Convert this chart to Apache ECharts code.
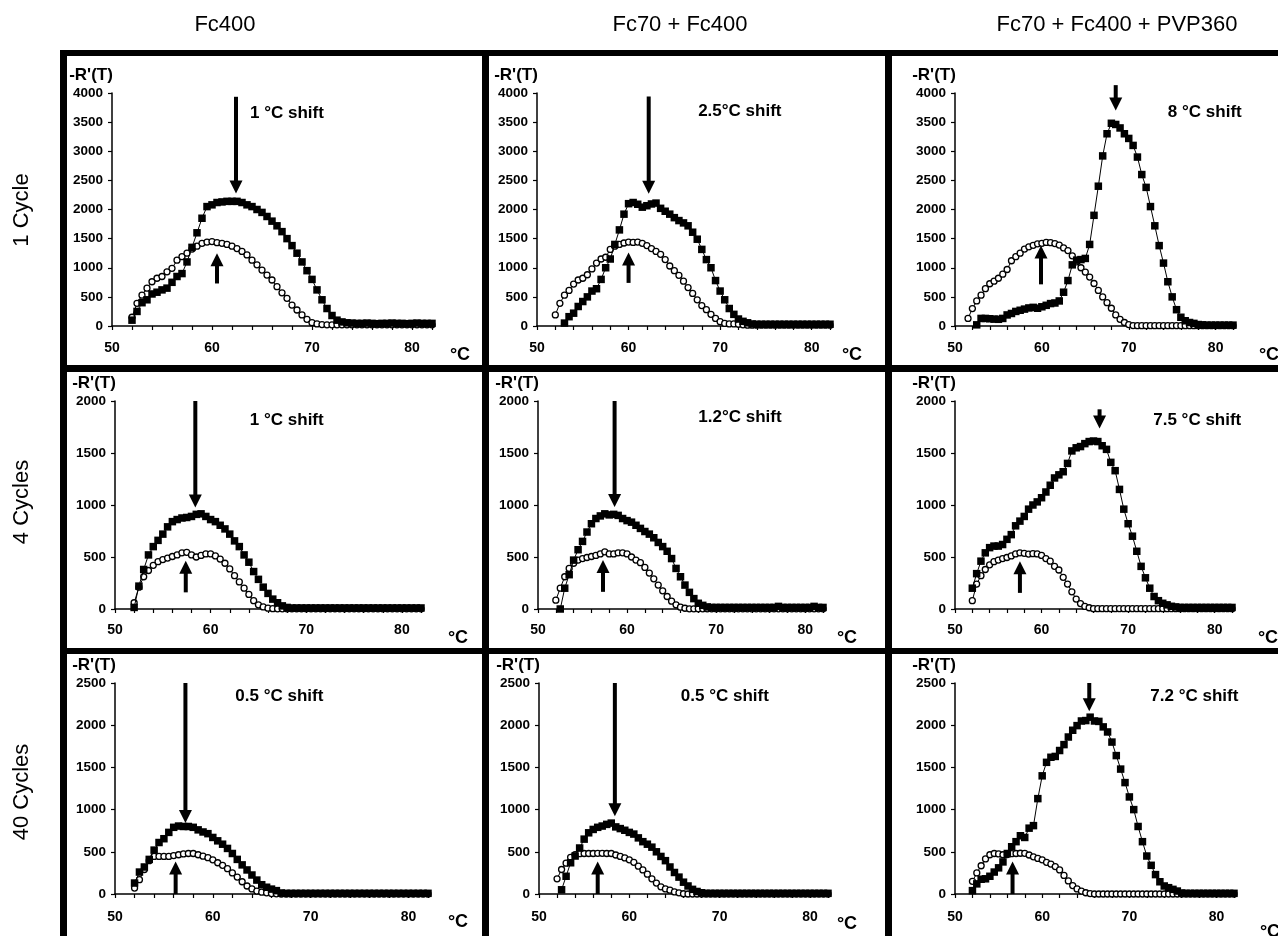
<!DOCTYPE html>
<html>
<head>
<meta charset="utf-8">
<script src="https://cdn.jsdelivr.net/npm/echarts/dist/echarts.min.js"></script>
<style>
html,body{margin:0;padding:0;background:#fff;}
#chart{width:1278px;height:936px;}
</style>
</head>
<body>
<div id="chart"></div>
<script>
// ---------- data ----------
const temps = [51.5,52,52.5,53,53.5,54,54.5,55,55.5,56,
  56.5,57,57.5,58,58.5,59,59.5,60,60.5,61,
  61.5,62,62.5,63,63.5,64,64.5,65,65.5,66,
  66.5,67,67.5,68,68.5,69,69.5,70,70.5,71,
  71.5,72,72.5,73,73.5,74,74.5,75,75.5,76,
  76.5,77,77.5,78,78.5,79,79.5,80,80.5,81,
  81.5,82];

const columnTitles = ['Fc400', 'Fc70 + Fc400', 'Fc70 + Fc400 + PVP360'];
const rowTitles = ['1 Cycle', '4 Cycles', '40 Cycles'];
const yMaxByRow = [4000, 2000, 2500];
const yStep = 500;
const xMin = 50, xMax = 82, xStep = 2, xLabelStep = 10;
const yName = "-R'(T)";
const unitName = '°C';

// Row 1 (1 cycle)
const r1c1Open = [null,150,390,530,650,760,820,850,930,990,
  1130,1190,1250,1320,1370,1420,1440,1450,1430,1420,
  1400,1370,1330,1280,1220,1130,1050,960,875,790,
  675,570,475,360,275,190,115,57,35,25,
  20,20,20,20,20,20,20,20,20,20,
  20,20,20,20,20,20,20,20,20,20,
  20,20];
const r1c1Filled = [null,100,250,400,450,550,580,620,650,750,
  850,900,1100,1350,1600,1850,2050,2080,2120,2130,
  2140,2140,2140,2120,2080,2050,2000,1950,1880,1800,
  1720,1620,1500,1380,1250,1100,950,800,620,450,
  300,180,100,70,55,50,45,45,50,45,
  40,45,45,50,45,45,40,45,50,45,
  45,45];
const r1c2Open = [null,190,390,530,610,720,790,820,880,980,
  1080,1150,1180,1315,1370,1400,1425,1440,1435,1440,
  1420,1380,1330,1280,1230,1140,1030,950,870,770,
  660,560,450,350,280,200,130,75,45,35,
  35,30,20,15,15,15,15,15,15,15,
  15,15,15,15,15,15,15,15,15,15,
  15,15];
const r1c2Filled = [null,null,null,50,160,220,335,420,500,600,
  640,800,1000,1150,1400,1650,1920,2100,2120,2090,
  2040,2065,2095,2110,2020,1970,1920,1860,1810,1770,
  1720,1610,1490,1315,1140,1000,780,600,450,300,
  200,120,80,55,35,30,30,30,30,30,
  30,30,30,30,30,30,30,30,30,30,
  30,30];
const r1c3Open = [130,300,430,530,640,725,770,820,890,970,
  1120,1190,1250,1320,1360,1385,1410,1420,1435,1430,
  1415,1390,1340,1295,1205,1100,1000,925,840,730,
  610,500,400,305,190,115,60,25,8,5,
  5,5,5,5,5,5,5,5,5,5,
  5,5,5,5,5,5,5,5,5,5,
  5,5];
const r1c3Filled = [null,null,20,130,130,125,118,115,130,190,
  215,250,270,290,310,320,305,330,355,385,
  395,430,580,780,1050,1130,1140,1160,1400,1900,
  2400,2920,3300,3480,3460,3400,3300,3220,3100,2900,
  2600,2380,2050,1720,1380,1080,760,500,280,150,
  90,60,45,25,20,15,15,15,15,15,
  15,15];

// Row 2 (4 cycles)
const r2c1Open = [null,60,210,310,370,420,455,475,490,505,
  520,540,545,520,500,515,530,530,510,480,
  440,385,320,260,200,140,80,40,20,8,
  3,2,2,2,2,2,2,2,2,2,
  2,2,2,2,2,2,2,2,2,2,
  2,2,2,2,2,2,2,2,2,2,
  2,2];
const r2c1Filled = [null,15,220,380,520,600,660,720,790,840,
  860,875,880,890,910,915,890,860,840,805,
  770,720,655,600,520,450,360,285,210,150,
  95,60,30,15,10,10,10,10,10,10,
  10,10,10,10,10,10,10,10,10,10,
  10,10,10,10,10,10,10,10,10,10,
  10,10];
const r2c2Open = [null,85,200,310,390,440,470,485,495,505,
  515,530,550,530,530,540,540,530,500,470,
  445,400,345,290,230,175,120,75,40,18,
  7,2,2,2,2,2,2,2,2,2,
  2,2,2,2,2,2,2,2,2,2,
  2,2,2,2,2,2,2,2,2,2,
  2,2];
const r2c2Filled = [null,null,0,200,330,470,570,650,740,820,
  870,895,915,905,910,900,870,850,835,805,
  775,745,720,685,640,600,555,485,390,310,
  230,160,100,55,35,20,15,15,15,15,
  15,15,15,15,15,15,15,15,15,15,
  15,25,15,15,15,15,15,15,15,25,
  15,15];
const r2c3Open = [null,80,240,320,380,425,455,470,485,495,
  510,530,540,535,528,532,530,515,485,460,
  410,375,305,240,165,95,52,25,12,3,
  3,3,3,3,3,3,3,3,3,3,
  3,3,3,3,3,3,3,3,3,3,
  3,3,3,3,3,3,3,3,3,3,
  3,3];
const r2c3Filled = [null,200,340,460,540,590,605,605,620,670,
  715,800,845,890,960,1000,1030,1070,1125,1190,
  1260,1290,1320,1400,1520,1550,1562,1590,1610,1615,
  1610,1570,1535,1410,1330,1150,960,820,700,555,
  410,300,200,120,80,55,40,26,20,15,
  15,15,15,15,15,15,15,15,15,15,
  15,15];

// Row 3 (40 cycles)
const r3c1Open = [null,70,170,290,395,445,445,445,445,455,
  465,475,480,480,465,448,430,405,370,340,
  300,250,200,145,95,60,35,22,14,5,
  2,0,0,0,0,0,0,0,0,0,
  0,0,0,0,0,0,0,0,0,0,
  0,0,0,0,0,0,0,0,0,0,
  0,0];
const r3c1Filled = [null,130,260,320,410,520,610,655,730,790,
  805,800,800,790,760,735,715,670,630,590,
  540,480,410,345,285,225,165,110,80,58,
  40,12,8,8,8,8,8,8,8,8,
  8,8,8,8,8,8,8,8,8,8,
  8,8,8,8,8,8,8,8,8,8,
  8,8];
const r3c2Open = [null,180,290,365,435,465,478,480,480,480,
  482,482,480,480,462,445,428,405,375,330,
  285,235,180,130,85,60,45,25,14,3,
  0,0,0,0,0,0,0,0,0,0,
  0,0,0,0,0,0,0,0,0,0,
  0,0,0,0,0,0,0,0,0,0,
  0,0];
const r3c2Filled = [null,null,50,210,370,450,545,650,725,765,
  790,805,825,840,795,775,755,730,710,665,
  620,590,555,500,445,395,320,255,200,140,
  95,55,30,15,8,8,8,8,8,8,
  8,8,8,8,8,8,8,8,8,8,
  8,8,8,8,8,8,8,8,8,8,
  8,8];
const r3c3Open = [null,150,250,335,415,465,480,475,465,468,
  478,480,483,482,462,440,422,405,375,355,
  325,285,220,155,100,60,35,15,5,0,
  0,0,0,0,0,0,0,0,0,0,
  0,0,0,0,0,0,0,0,0,0,
  0,0,0,0,0,0,0,0,0,0,
  0,0];
const r3c3Filled = [null,40,120,175,180,210,260,310,380,480,
  560,620,690,670,780,810,1130,1400,1560,1620,
  1630,1700,1770,1860,1940,1995,2050,2055,2095,2050,
  2045,1980,1920,1800,1640,1480,1320,1150,1000,800,
  620,450,340,230,145,95,75,55,35,12,
  8,8,8,8,8,8,8,8,8,8,
  8,8];

const panelData = [
  [r1c1Open, r1c1Filled], [r1c2Open, r1c2Filled], [r1c3Open, r1c3Filled],
  [r2c1Open, r2c1Filled], [r2c2Open, r2c2Filled], [r2c3Open, r2c3Filled],
  [r3c1Open, r3c1Filled], [r3c2Open, r3c2Filled], [r3c3Open, r3c3Filled]
];

// annotations (data coordinates)
const shiftTexts = ['1 °C shift', '2.5°C shift', '8 °C shift',
                    '1 °C shift', '1.2°C shift', '7.5 °C shift',
                    '0.5 °C shift', '0.5 °C shift', '7.2 °C shift'];
const shiftAnchors = [[63.8,3650],[67.6,3680],[74.5,3670],
                      [64.1,1810],[68.0,1840],[72.9,1810],
                      [62.3,2340],[65.7,2340],[72.4,2340]];
// [x, tail value, tip value]
const downArrows = [[62.4,3935,2275],[62.2,3940,2270],[68.5,4135,3700],
                    [58.4,2000,975],[58.6,2000,980],[66.7,1920,1735],
                    [57.2,2500,840],[58.4,2500,920],[65.4,2500,2165]];
const upArrows = [[60.5,730,1250],[60.0,740,1260],[59.9,715,1380],
                  [57.4,160,465],[57.3,165,470],[57.5,155,460],
                  [56.2,0,385],[56.5,0,385],[56.6,0,385]];

// ---------- layout ----------
const gridBoxes = [
  {left:112, top:93, width:320, height:233},
  {left:537, top:93, width:293, height:233},
  {left:955, top:93, width:278, height:233},
  {left:115, top:401, width:306, height:208},
  {left:538, top:401, width:285, height:208},
  {left:955, top:401, width:277, height:208},
  {left:115, top:683, width:313, height:211},
  {left:539, top:683, width:289, height:211},
  {left:955, top:683, width:279, height:211}
];
const xLabelMargin = [15, 14, 16];
const unitPix = [[460,355],[852,355],[1269,355],
                 [458,638],[847,638],[1268,638],
                 [458,922],[847,924],[1270,932]];

const FONT = '"Liberation Sans", Arial, Helvetica, sans-serif';

const grids = [], xAxes = [], yAxes = [], series = [];
for (let k = 0; k < 9; k++) {
  const row = Math.floor(k / 3);
  grids.push(Object.assign({outerBoundsMode: 'none', containLabel: false}, gridBoxes[k]));
  xAxes.push({
    type: 'value', gridIndex: k, min: xMin, max: xMax, interval: xStep,
    axisLine: {show: true, onZero: false, lineStyle: {color: '#000', width: 1.5}},
    axisTick: {show: true, inside: false, length: 4, lineStyle: {color: '#000', width: 1.2}},
    axisLabel: {
      show: true, margin: xLabelMargin[row], color: '#000', fontWeight: 'bold',
      fontSize: 14, fontFamily: FONT,
      formatter: v => (v % xLabelStep === 0 ? String(v) : '')
    },
    splitLine: {show: false}
  });
  yAxes.push({
    type: 'value', gridIndex: k, min: 0, max: yMaxByRow[row], interval: yStep,
    axisLine: {show: true, lineStyle: {color: '#000', width: 1.5}},
    axisTick: {show: true, inside: false, length: 4, lineStyle: {color: '#000', width: 1.2}},
    axisLabel: {show: true, margin: 9, color: '#000', fontWeight: 'bold', fontSize: 13.5, fontFamily: FONT,
      formatter: v => String(v)},
    splitLine: {show: false}
  });
  const [openArr, filledArr] = panelData[k];
  const toPts = arr => temps.map((t, i) => [t, arr[i]]).filter(p => p[1] !== null);
  series.push({
    type: 'line', xAxisIndex: k, yAxisIndex: k, data: toPts(openArr),
    symbol: 'circle', symbolSize: 6, showSymbol: true,
    lineStyle: {color: '#000', width: 1},
    itemStyle: {color: '#fff', borderColor: '#000', borderWidth: 1.3},
    emphasis: {disabled: true}, z: 2
  });
  series.push({
    type: 'line', xAxisIndex: k, yAxisIndex: k, data: toPts(filledArr),
    symbol: 'rect', symbolSize: 7.5, showSymbol: true,
    lineStyle: {color: '#000', width: 1},
    itemStyle: {color: '#000', borderColor: '#000', borderWidth: 0},
    emphasis: {disabled: true}, z: 3
  });
}

const chart = echarts.init(document.getElementById('chart'), null, {renderer: 'canvas'});
chart.setOption({
  animation: false,
  backgroundColor: '#fff',
  grid: grids, xAxis: xAxes, yAxis: yAxes, series: series
});

// ---------- graphics: frame, titles, annotations ----------
const g = [];
const rect = (x, y, w, h) => ({type: 'rect', shape: {x, y, width: w, height: h}, style: {fill: '#000'}, z: 50, silent: true});
g.push(rect(60, 50, 1218, 6));
g.push(rect(60, 50, 7, 886));
g.push(rect(60, 365, 1218, 7));
g.push(rect(60, 648, 1218, 6));
g.push(rect(482, 50, 7, 886));
g.push(rect(885, 50, 7, 886));

const colCenters = [225, 680, 1117];
columnTitles.forEach((t, i) => g.push({
  type: 'text', x: colCenters[i], y: 25, z: 50, silent: true,
  style: {text: t, font: '22px ' + FONT, fill: '#000', textAlign: 'center', textVerticalAlign: 'middle'}
}));
const rowCenters = [210, 502, 792];
rowTitles.forEach((t, i) => g.push({
  type: 'text', x: 22, y: rowCenters[i], rotation: Math.PI / 2, z: 50, silent: true,
  style: {text: t, font: '22px ' + FONT, fill: '#000', textAlign: 'center', textVerticalAlign: 'middle'}
}));

function arrowEls(k, x, vTail, vTip) {
  const p0 = chart.convertToPixel({gridIndex: k}, [x, vTail]);
  const p1 = chart.convertToPixel({gridIndex: k}, [x, vTip]);
  const dir = p1[1] > p0[1] ? 1 : -1;
  const headH = 13, headW = 13;
  const baseY = p1[1] - dir * headH;
  return [
    {type: 'line', z: 60, silent: true, shape: {x1: p1[0], y1: p0[1], x2: p1[0], y2: baseY + dir * 1},
     style: {stroke: '#000', lineWidth: 4}},
    {type: 'polygon', z: 60, silent: true,
     shape: {points: [[p1[0], p1[1]], [p1[0] - headW / 2, baseY], [p1[0] + headW / 2, baseY]]},
     style: {fill: '#000'}}
  ];
}

for (let k = 0; k < 9; k++) {
  const b = gridBoxes[k];
  g.push({type: 'text', x: b.left - 21, y: b.top - 18, z: 50, silent: true,
    style: {text: yName, font: 'bold 17px ' + FONT, fill: '#000', textAlign: 'center', textVerticalAlign: 'middle'}});
  g.push({type: 'text', x: unitPix[k][0], y: unitPix[k][1], z: 50, silent: true,
    style: {text: unitName, font: 'bold 18px ' + FONT, fill: '#000', textAlign: 'center', textVerticalAlign: 'middle'}});
  const sp = chart.convertToPixel({gridIndex: k}, shiftAnchors[k]);
  g.push({type: 'text', x: sp[0], y: sp[1], z: 50, silent: true,
    style: {text: shiftTexts[k], font: 'bold 17px ' + FONT, fill: '#000', textAlign: 'left', textVerticalAlign: 'middle'}});
  arrowEls(k, downArrows[k][0], downArrows[k][1], downArrows[k][2]).forEach(e => g.push(e));
  arrowEls(k, upArrows[k][0], upArrows[k][1], upArrows[k][2]).forEach(e => g.push(e));
}

chart.setOption({graphic: {elements: g}});
</script>
</body>
</html>
